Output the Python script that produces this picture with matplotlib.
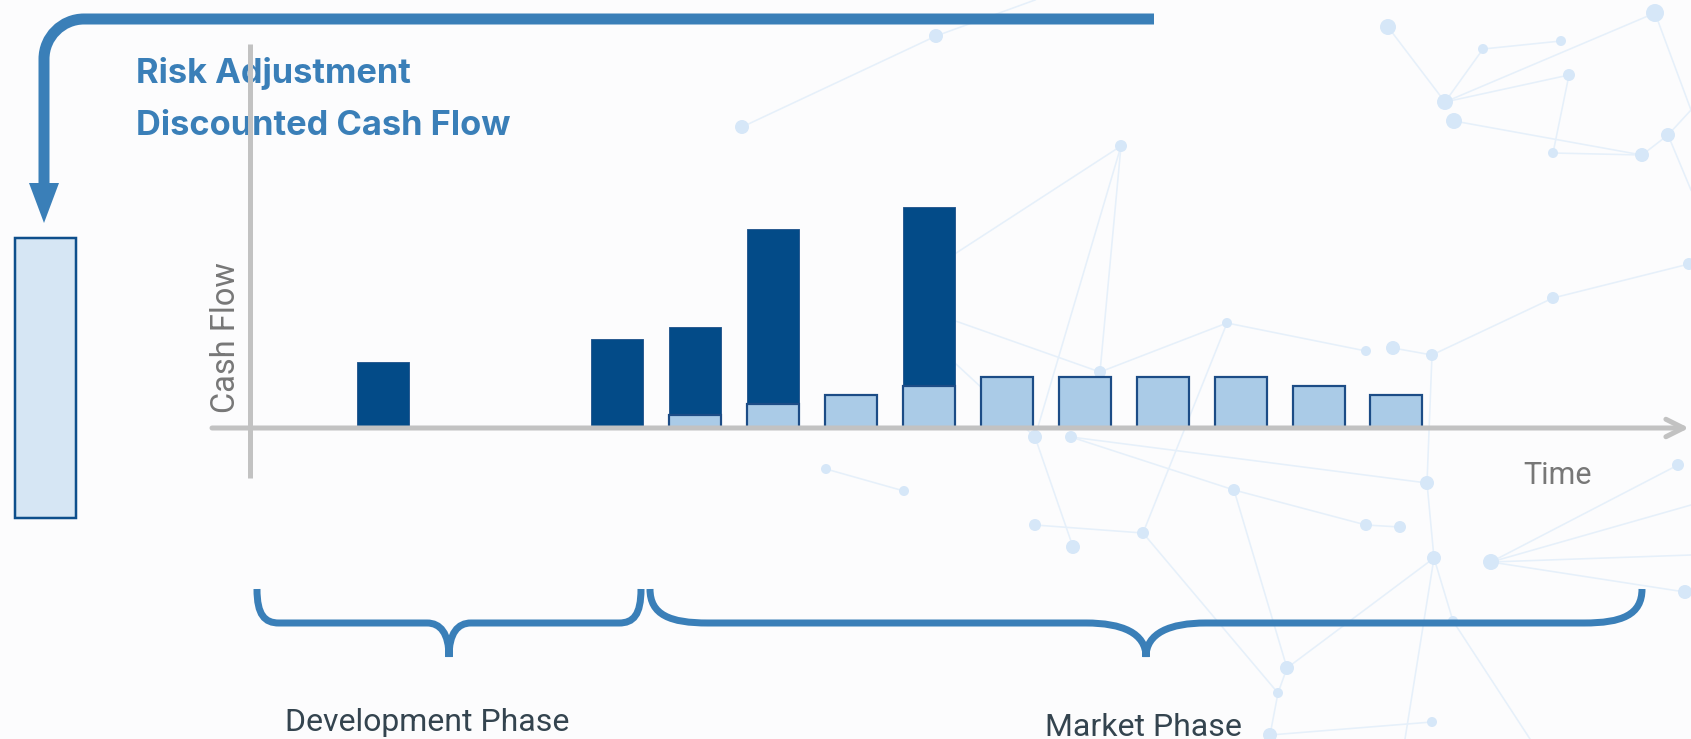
import matplotlib
matplotlib.use("Agg")
import matplotlib.pyplot as plt
import numpy as np
from matplotlib.path import Path
from matplotlib.patches import PathPatch, Rectangle, Polygon


#####################
### Data          ###
#####################

periods     = np.arange(14)
# cash flow before risk adjustment (dark) and after risk adjustment (light)
risky_cf    = [6.6, 0, 0, 8.9, 10.1, 19.9, 0, 22.1, 0, 0, 0, 0, 0, 0]
adjusted_cf = [0, 0, 0, 0, 1.3, 2.4, 3.3, 4.2, 5.1, 5.1, 5.1, 5.1, 4.2, 3.3]

title_lines  = ["Risk Adjustment", "Discounted Cash Flow"]
y_label      = "Cash Flow"
x_label      = "Time"
phase_labels = ["Development Phase", "Market Phase"]

# decorative network in the background (pixel positions of the reference)
net_nodes = {
    'a': (936, 36, 7), 'b': (742, 127, 7), 'c': (1121, 146, 6),
    'd': (1388, 27, 8), 'e': (1445, 102, 8), 'f': (1454, 121, 8), 'g': (1483, 49, 5),
    'h': (1561, 41, 5), 'i': (1569, 75, 6), 'j': (1553, 153, 5), 'k': (1655, 13, 9),
    'l': (1642, 155, 7), 'm': (1668, 135, 7),
    'o': (1227, 323, 5), 'p': (1366, 351, 5), 'q': (1393, 348, 7), 'r': (1432, 355, 6),
    's': (1553, 298, 6), 't': (1689, 264, 6),
    'u': (1100, 372, 6), 'v': (1035, 437, 7), 'w': (1071, 437, 6),
    'x': (826, 469, 5), 'y': (904, 491, 5),
    'z': (1234, 490, 6), 'aa': (1427, 483, 7), 'ab': (1035, 525, 6), 'ac': (1073, 547, 7),
    'ad': (1143, 533, 6), 'ae': (1366, 525, 6), 'af': (1400, 527, 6), 'ag': (1434, 558, 7),
    'ah': (1491, 562, 8), 'ai': (1678, 465, 6), 'aj': (1685, 592, 7), 'ak': (1453, 621, 5),
    'al': (1287, 668, 7), 'am': (1278, 693, 5), 'an': (1270, 735, 7), 'ao': (1432, 722, 5),
    'h1': (930, 270, 0), 'h2': (930, 312, 0), 'h3': (930, 340, 0),
    'e1': (1035, 0, 0), 'e2': (1691, 110, 0), 'e3': (1691, 190, 0), 'e4': (1691, 505, 0),
    'e5': (1530, 739, 0), 'e6': (1405, 739, 0), 'e7': (1691, 555, 0),
}
net_edges = [
    ('b', 'a'), ('a', 'e1'), ('c', 'h1'), ('c', 'u'), ('c', 'v'), ('u', 'h2'), ('v', 'h3'),
    ('u', 'o'), ('o', 'p'), ('o', 'ad'), ('q', 'r'), ('r', 's'), ('s', 't'), ('r', 'aa'),
    ('d', 'e'), ('e', 'k'), ('e', 'i'), ('e', 'g'), ('f', 'l'), ('l', 'm'), ('m', 'e2'),
    ('i', 'j'), ('g', 'h'), ('k', 'e2'), ('m', 'e3'), ('j', 'l'),
    ('v', 'ac'), ('w', 'z'), ('z', 'al'), ('z', 'ae'), ('ae', 'af'), ('x', 'y'), ('ab', 'ad'),
    ('aa', 'ag'), ('ag', 'al'), ('ag', 'ak'), ('ah', 'e4'), ('ah', 'aj'), ('ai', 'ah'),
    ('ak', 'e5'), ('al', 'am'), ('am', 'an'), ('an', 'ao'), ('ag', 'e6'), ('ah', 'e7'),
    ('w', 'aa'), ('ad', 'am'),
]


#####################
### Styles        ###
#####################

W, H, DPI = 1691, 739, 100
PT = 72.0 / DPI                         # points per pixel

blue       = '#3a7fb8'
dark_bar   = '#034b88'
light_bar  = '#aacbe7'
bar_edge   = '#1c4c86'
axis_grey  = '#c2c2c2'
label_grey = '#777777'
phase_text = '#34444f'

title_font = {'family': ['Inter', 'Roboto', 'DejaVu Sans'], 'weight': 'bold'}
phase_font = {'family': ['Roboto', 'DejaVu Sans'], 'weight': 'normal'}

# mapping of the chart area: slot 0 centre at 383 px, 77.96 px per period, 10 px per unit
x0_px, dx_px, y0_px, dy_px = 383.0, 77.96, 428.0, 10.0


def px_to_x(px):
    return (px - x0_px) / dx_px


def px_to_y(px):
    return (y0_px - px) / dy_px


fig = plt.figure(figsize=(W / DPI, H / DPI), dpi=DPI)
fig.patch.set_facecolor('#fcfcfd')

# overlay in pixel coordinates for the decoration
bg = fig.add_axes([0, 0, 1, 1], zorder=0)
bg.set_xlim(0, W)
bg.set_ylim(H, 0)
bg.axis('off')

# background network
for n1, n2 in net_edges:
    x1, y1, _ = net_nodes[n1]
    x2, y2, _ = net_nodes[n2]
    bg.plot([x1, x2], [y1, y2], color='#e6f0fa', lw=1.6 * PT, zorder=1)
nx = [v[0] for v in net_nodes.values() if v[2] > 0]
ny = [v[1] for v in net_nodes.values() if v[2] > 0]
ns = [(2 * v[2] * PT) ** 2 for v in net_nodes.values() if v[2] > 0]
bg.scatter(nx, ny, s=ns, color='#d6e7f8', linewidths=0, zorder=2)

# bent arrow from the cash flows to the risk adjusted value
arrow_path = Path(
    [(1154, 19), (84, 19), (62, 19), (44, 37), (44, 59), (44, 188)],
    [Path.MOVETO, Path.LINETO, Path.CURVE4, Path.CURVE4, Path.CURVE4, Path.LINETO])
bg.add_patch(PathPatch(arrow_path, fill=False, edgecolor=blue, lw=11 * PT,
                       capstyle='butt', joinstyle='round', zorder=3))
bg.add_patch(Polygon([(29, 183), (59, 183), (44, 223)], closed=True,
                     facecolor=blue, edgecolor='none', zorder=3))

# risk adjusted value box
bg.add_patch(Rectangle((15, 238), 61, 280, facecolor='#d6e6f4',
                       edgecolor='#0e4f8c', lw=2.5 * PT, zorder=3))

bg.text(136, 83, title_lines[0], color=blue, fontsize=24.8, va='baseline', ha='left', **title_font)
bg.text(136, 135, title_lines[1], color=blue, fontsize=24.8, va='baseline', ha='left', **title_font)


# curly braces under the phases
def brace(x_left, x_right, x_tip, r_end, r_tip, y_top=589, y_mid=623, y_tip=657):
    verts = [(x_left, y_top),
             (x_left, y_mid - 8), (x_left + r_end * 0.35, y_mid), (x_left + r_end, y_mid),
             (x_tip - r_tip, y_mid),
             (x_tip - r_tip * 0.4, y_mid), (x_tip, y_mid + 10), (x_tip, y_tip),
             (x_tip, y_mid + 10), (x_tip + r_tip * 0.4, y_mid), (x_tip + r_tip, y_mid),
             (x_right - r_end, y_mid),
             (x_right - r_end * 0.35, y_mid), (x_right, y_mid - 8), (x_right, y_top)]
    codes = [Path.MOVETO,
             Path.CURVE4, Path.CURVE4, Path.CURVE4,
             Path.LINETO,
             Path.CURVE4, Path.CURVE4, Path.CURVE4,
             Path.CURVE4, Path.CURVE4, Path.CURVE4,
             Path.LINETO,
             Path.CURVE4, Path.CURVE4, Path.CURVE4]
    bg.add_patch(PathPatch(Path(verts, codes), fill=False, edgecolor=blue,
                           lw=7 * PT, capstyle='butt', zorder=3))


brace(257, 641, 449, 22, 22)
brace(650, 1642, 1146, 58, 60)

bg.text(285, 731, phase_labels[0], color=phase_text, fontsize=23, va='baseline', ha='left', **phase_font)
bg.text(1045, 736, phase_labels[1], color=phase_text, fontsize=23, va='baseline', ha='left', **phase_font)


# chart area in data coordinates
ax = fig.add_axes([0, 0, 1, 1], zorder=1)
ax.patch.set_alpha(0)
ax.axis('off')
ax.set_xlim(px_to_x(0), px_to_x(W))
ax.set_ylim(px_to_y(H), px_to_y(0))

bar_w = 52 / dx_px
risky = np.array(risky_cf)
adjusted = np.array(adjusted_cf)
ax.bar(periods[risky > 0], risky[risky > 0], width=bar_w, color=dark_bar,
       edgecolor='#2c5d92', linewidth=1.0 * PT, zorder=2)
ax.bar(periods[adjusted > 0], adjusted[adjusted > 0], width=bar_w, color=light_bar,
       edgecolor=bar_edge, linewidth=2.2 * PT, zorder=3)

# axes drawn by hand: vertical line and time arrow
ax.plot([px_to_x(250)] * 2, [px_to_y(478), px_to_y(44)], color=axis_grey,
        lw=5 * PT, solid_capstyle='butt', zorder=4)
ax.annotate('', xy=(px_to_x(1689), 0), xytext=(px_to_x(212), 0),
            arrowprops=dict(arrowstyle='->,head_length=0.9,head_width=0.45',
                            mutation_scale=14, lw=5 * PT, color=axis_grey,
                            shrinkA=0, shrinkB=0, capstyle='round'),
            zorder=4)

ax.text(px_to_x(226), px_to_y(338), y_label, rotation=90, color=label_grey,
        fontsize=23.5, ha='center', va='center', **phase_font)
ax.text(px_to_x(1523), px_to_y(484), x_label, color=label_grey,
        fontsize=22, ha='left', va='baseline', **phase_font)

fig.savefig('out.png', dpi=DPI, facecolor=fig.get_facecolor())
